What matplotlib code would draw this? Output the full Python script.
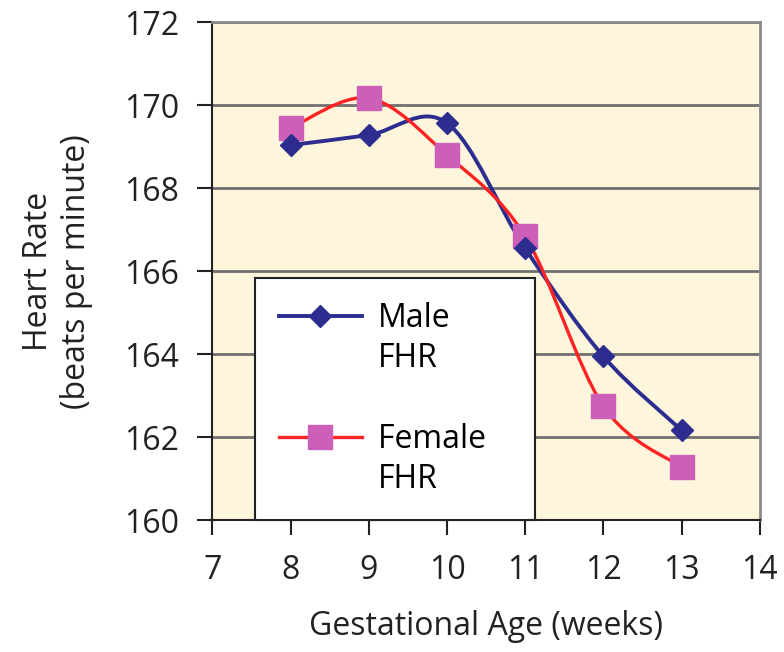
import matplotlib
matplotlib.use("Agg")
import matplotlib.pyplot as plt
from matplotlib.path import Path
from matplotlib.patches import PathPatch
from matplotlib.lines import Line2D
import numpy as np

plt.rcParams["font.family"] = ["Open Sans", "DejaVu Sans"]

weeks = [8, 9, 10, 11, 12, 13]
male_fhr = [169.04, 169.28, 169.57, 166.55, 163.95, 162.17]
female_fhr = [169.45, 170.17, 168.80, 166.84, 162.75, 161.28]

male_color = "#2d2d8f"
female_color = "#ff2222"
female_marker = "#cc5fb8"
txt = "#222222"
fs = 23


def smooth_path(xs, ys):
    # excel-like smoothed line: cubic bezier segments, catmull-rom control points
    xs = np.asarray(xs, float)
    ys = np.asarray(ys, float)
    n = len(xs)
    verts = [(xs[0], ys[0])]
    codes = [Path.MOVETO]
    for i in range(n - 1):
        p0 = (xs[max(i - 1, 0)], ys[max(i - 1, 0)])
        p1 = (xs[i], ys[i])
        p2 = (xs[i + 1], ys[i + 1])
        p3 = (xs[min(i + 2, n - 1)], ys[min(i + 2, n - 1)])
        c1 = (p1[0] + (p2[0] - p0[0]) / 6, p1[1] + (p2[1] - p0[1]) / 6)
        c2 = (p2[0] - (p3[0] - p1[0]) / 6, p2[1] - (p3[1] - p1[1]) / 6)
        verts += [c1, c2, p2]
        codes += [Path.CURVE4] * 3
    return Path(verts, codes)


fig = plt.figure(figsize=(7.84, 6.52), dpi=100)
ax = fig.add_axes([0.271, 0.202, 0.698, 0.764])
ax.set_facecolor("#fdf5dc")

ax.add_patch(PathPatch(smooth_path(weeks, male_fhr), fill=False, edgecolor=male_color, lw=2.8, zorder=3))
ax.add_patch(PathPatch(smooth_path(weeks, female_fhr), fill=False, edgecolor=female_color, lw=2.4, zorder=3))
ax.plot(weeks, male_fhr, ls="none", marker="D", markersize=11, color=male_color, zorder=5)
ax.plot(weeks, female_fhr, ls="none", marker="s", markersize=17, color=female_marker, zorder=4)

ax.set_xlim(7, 14)
ax.set_ylim(160, 172)
ax.set_xticks(range(7, 15))
ax.set_yticks(range(160, 173, 2))
ax.grid(axis="y", color="#707070", lw=2)
ax.set_axisbelow(True)

for s in ["top", "right"]:
    ax.spines[s].set_color("#8a8a8a")
    ax.spines[s].set_linewidth(2)
for s in ["left", "bottom"]:
    ax.spines[s].set_color(txt)
    ax.spines[s].set_linewidth(1.5)

ax.tick_params(axis="y", direction="out", length=11, width=1.5, labelsize=fs, pad=13, colors=txt)
ax.tick_params(axis="x", direction="out", length=11, width=1.5, labelsize=fs, pad=13, colors=txt)

ax.set_xlabel("Gestational Age (weeks)", fontsize=fs, labelpad=17, color=txt)
ax.set_ylabel("Heart Rate\n(beats per minute)", fontsize=fs, labelpad=22, color=txt, linespacing=1.2)

# legend: each label wraps onto a second line, so use extra rows without handles
blank = Line2D([], [], ls="none")
handles = [
    Line2D([], [], color=male_color, lw=2.8, marker="D", markersize=11),
    blank, blank,
    Line2D([], [], color=female_color, lw=2.4, marker="s", markersize=17,
           markerfacecolor=female_marker, markeredgecolor=female_marker),
    blank,
]
labels = ["Male", "FHR", " ", "Female   ", "FHR"]
leg = ax.legend(handles, labels, loc="lower left",
                bbox_to_anchor=(0.077, 0.0), borderaxespad=0, fontsize=fs,
                handlelength=2.6, labelspacing=0.23, borderpad=0.75, handletextpad=0.5,
                fancybox=False, framealpha=1, edgecolor=txt)
leg.get_frame().set_linewidth(1.5)

fig.savefig("out.png", dpi=100)
